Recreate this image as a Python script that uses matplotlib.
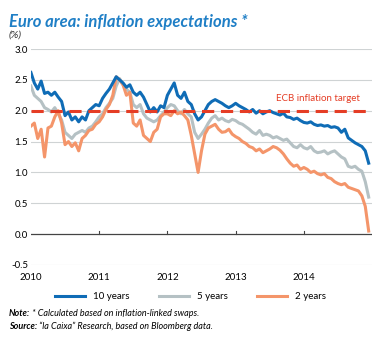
import matplotlib.pyplot as plt
import numpy as np

# datos (cada 0.05 año desde 2010)
years = [2010, 2011, 2012, 2013, 2014]
ten_years = [2.62, 2.45, 2.35, 2.48, 2.28, 2.30, 2.25, 2.30, 2.22, 2.15,
             1.92, 1.98, 1.85, 1.90, 1.82, 1.90, 1.85, 2.00, 2.05, 2.10,
             2.08, 2.20, 2.28, 2.35, 2.45, 2.55, 2.50, 2.45, 2.38, 2.42,
             2.30, 2.25, 2.30, 2.22, 2.10, 1.98, 2.05, 1.98, 2.08, 2.05,
             2.25, 2.35, 2.45, 2.25, 2.20, 2.30, 2.15, 2.10, 1.95, 1.85,
             1.90, 2.00, 2.10, 2.15, 2.18, 2.15, 2.12, 2.08, 2.05, 2.08,
             2.12, 2.08, 2.05, 2.02, 1.98, 2.02, 1.96, 2.00, 1.95, 1.98,
             2.00, 1.97, 1.95, 1.93, 1.96, 1.90, 1.89, 1.86, 1.88, 1.84,
             1.81, 1.80, 1.82, 1.78, 1.76, 1.77, 1.75, 1.76, 1.73, 1.74,
             1.72, 1.65, 1.70, 1.56, 1.52, 1.48, 1.45, 1.42, 1.35, 1.15]
five_years = [2.40, 2.25, 2.20, 2.15, 2.05, 2.02, 1.98, 2.05, 1.95, 1.85,
              1.65, 1.60, 1.55, 1.62, 1.65, 1.68, 1.65, 1.72, 1.75, 1.82,
              1.90, 1.95, 2.05, 2.12, 2.20, 2.40, 2.52, 2.42, 2.35, 2.30,
              2.10, 2.05, 2.10, 1.95, 1.88, 1.85, 1.82, 1.85, 1.92, 1.98,
              2.05, 2.10, 2.08, 2.00, 1.95, 2.02, 1.95, 1.90, 1.65, 1.55,
              1.62, 1.70, 1.80, 1.88, 1.92, 1.85, 1.88, 1.84, 1.82, 1.86,
              1.84, 1.80, 1.78, 1.74, 1.70, 1.65, 1.62, 1.68, 1.60, 1.62,
              1.60, 1.56, 1.58, 1.55, 1.52, 1.54, 1.48, 1.42, 1.40, 1.45,
              1.40, 1.38, 1.42, 1.35, 1.32, 1.33, 1.35, 1.30, 1.33, 1.35,
              1.30, 1.25, 1.22, 1.10, 1.08, 1.10, 1.05, 1.02, 0.85, 0.60]
two_years = [1.75, 1.80, 1.55, 1.70, 1.25, 1.72, 1.75, 1.90, 2.00, 1.80,
             1.45, 1.50, 1.42, 1.48, 1.35, 1.55, 1.60, 1.68, 1.70, 1.78,
             1.82, 1.90, 2.02, 2.10, 2.25, 2.55, 2.50, 2.42, 2.25, 2.30,
             1.80, 1.75, 1.85, 1.60, 1.55, 1.50, 1.65, 1.70, 1.90, 1.95,
             1.95, 1.92, 2.00, 1.95, 1.98, 1.92, 1.85, 1.60, 1.30, 1.00,
             1.35, 1.62, 1.72, 1.75, 1.78, 1.70, 1.65, 1.66, 1.70, 1.62,
             1.58, 1.55, 1.50, 1.47, 1.42, 1.40, 1.35, 1.38, 1.32, 1.35,
             1.38, 1.42, 1.40, 1.36, 1.30, 1.22, 1.15, 1.10, 1.12, 1.05,
             1.08, 1.05, 1.00, 1.02, 0.98, 0.96, 0.98, 0.92, 0.90, 0.85,
             0.82, 0.80, 0.82, 0.76, 0.74, 0.72, 0.70, 0.62, 0.45, 0.05]
ecb_target = 2.0
y_ticks = [-0.5, 0.0, 0.5, 1.0, 1.5, 2.0, 2.5, 3.0]

t = 2010 + 0.05 * np.arange(len(ten_years))

plt.rcParams['font.family'] = ['Lato', 'DejaVu Sans']

blue = '#0f6cb6'
grey = '#b5c1c4'
orange = '#f4956a'
red = '#e53d25'

fig = plt.figure(figsize=(3.77, 3.38), dpi=100)
ax = fig.add_axes([0.082, 0.216, 0.905, 0.639])

for y in y_ticks:
    if y != 0:
        ax.axhline(y, color='#cfd3d4', lw=0.8, zorder=0)
ax.axhline(0, color='#444444', lw=0.9, zorder=1)

ax.plot(t, five_years, color=grey, lw=2.2, label='5 years', zorder=2)
ax.plot(t, two_years, color=orange, lw=2.2, label='2 years', zorder=3)
ax.plot(t, ten_years, color=blue, lw=2.2, label='10 years', zorder=4)
ax.axhline(ecb_target, color=red, lw=2.2, dashes=(4, 2.2), zorder=5)
ax.text(2014.2, 2.12, 'ECB inflation target', color=red, fontsize=7,
        ha='center', va='bottom')

# marcas de año sobre la línea de cero
for yr in years[1:]:
    ax.plot([yr, yr], [0, 0.05], color='#444444', lw=0.8, zorder=1)

ax.set_xlim(2010, 2015)
ax.set_ylim(-0.5, 3.0)
ax.set_yticks(y_ticks)
ax.set_yticklabels(['%.1f' % v for v in y_ticks], fontsize=7)
ax.set_xticks(years)
ax.set_xticklabels([str(y) for y in years], fontsize=7)
ax.tick_params(length=0, pad=2)
ax.tick_params(axis='x', pad=6)
for s in ax.spines.values():
    s.set_visible(False)

fig.text(0.024, 0.935, 'Euro area: inflation expectations *', color='#1f7fc6',
         fontsize=12, fontweight='bold', fontstyle='italic', va='center')
fig.text(0.024, 0.897, '(%)', fontsize=7.5, fontstyle='italic', va='center',
         color='#333333')

h, l = ax.get_legend_handles_labels()
order = [2, 0, 1]
fig.legend([h[i] for i in order], [l[i] for i in order], loc='center',
           bbox_to_anchor=(0.505, 0.123), ncol=3, frameon=False, fontsize=7,
           handlelength=3.1, handletextpad=0.8, columnspacing=3.0)

n1 = fig.text(0.024, 0.065, 'Note:', fontsize=6.5, fontweight='bold',
              fontstyle='italic', va='baseline')
ax.annotate(' * Calculated based on inflation-linked swaps.', xy=(1, 0),
            xycoords=n1, fontsize=6.5, fontstyle='italic', va='bottom')
n2 = fig.text(0.024, 0.028, 'Source:', fontsize=6.5, fontweight='bold',
              fontstyle='italic', va='baseline')
ax.annotate(' “la Caixa” Research, based on Bloomberg data.', xy=(1, 0),
            xycoords=n2, fontsize=6.5, fontstyle='italic', va='bottom')

fig.savefig('out.png', dpi=100)
